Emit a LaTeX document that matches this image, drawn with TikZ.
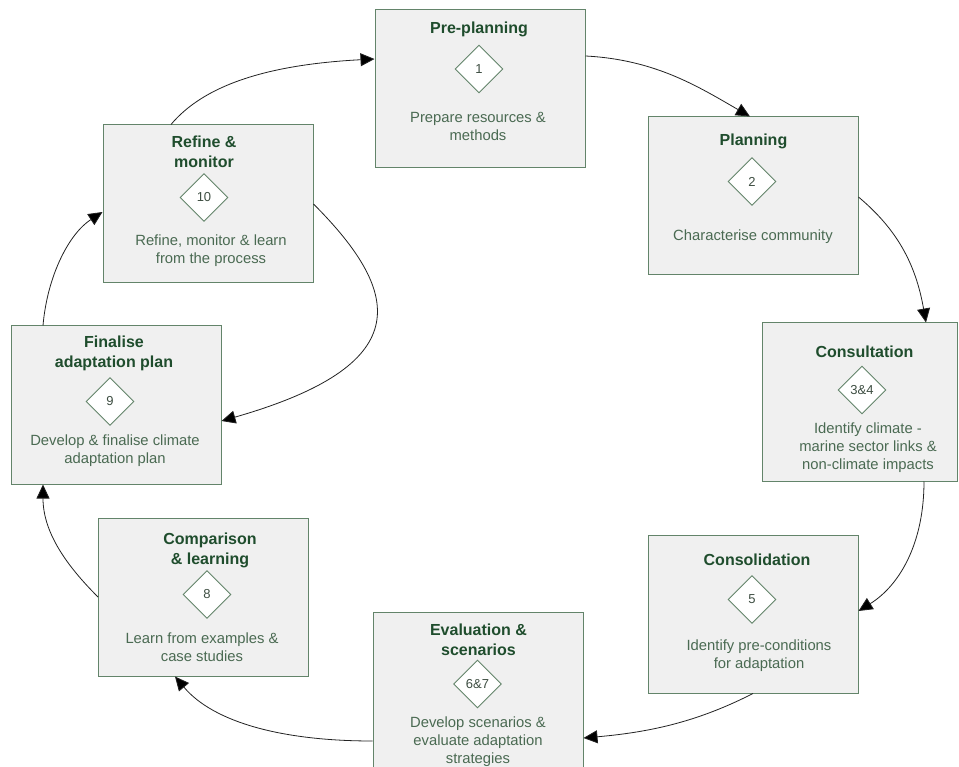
\documentclass[tikz,border=0pt]{standalone}
\usepackage{fontspec}
\setmainfont{Liberation Sans}
\usetikzlibrary{arrows.meta,shapes.geometric}
\definecolor{boxfill}{HTML}{F0F0F0}
\definecolor{boxline}{HTML}{63846A}
\definecolor{titlegreen}{HTML}{1F4D2D}
\definecolor{descgreen}{HTML}{4A6A52}
\definecolor{numgray}{HTML}{3E4E42}
\definecolor{linkgray}{HTML}{222222}

\begin{document}
\begin{tikzpicture}[x=1pt,y=-1pt,
  stagebox/.style={draw=boxline, fill=boxfill, line width=1pt,
    minimum width=210pt, minimum height=158pt, inner sep=0pt},
  stagetitle/.style={text=titlegreen, font=\fontsize{16}{20}\selectfont\bfseries,
    align=center, inner sep=0pt},
  stagetext/.style={text=descgreen, font=\fontsize{14.8}{18}\selectfont,
    align=center, inner sep=0pt},
  stepmark/.style={shape=diamond, draw=boxline, fill=white, line width=0.9pt,
    minimum width=48pt, minimum height=48pt, inner sep=0pt,
    text=numgray, font=\fontsize{13}{15}\selectfont},
  link/.style={draw=linkgray, line width=0.8pt,
    -{Triangle[length=14pt,width=13pt,fill=black]}}
]
\useasboundingbox (0,0) rectangle (959,767);
\clip (0,0) rectangle (959,767);

% 1 Pre-planning
\node[stagebox] (b1) at (480,89) {};
\node[stagetitle] (t1) at (479,29) {Pre-planning};
\node[stepmark] (d1) at (479,69) {1};
\node[stagetext] (x1) at (478,126) {Prepare resources \&\\methods};

% 2 Planning
\node[stagebox] (b2) at (753,196) {};
\node[stagetitle] (t2) at (753.5,141) {Planning};
\node[stepmark] (d2) at (752,181.5) {2};
\node[stagetext] (x2) at (753,237) {Characterise community};

% 3&4 Consultation
\node[stagebox, minimum width=195pt] (b3) at (859.5,402) {};
\node[stagetitle] (t3) at (864.5,352) {Consultation};
\node[stepmark] (d3) at (862,390) {3\&4};
\node[stagetext] (x3) at (868,448) {Identify climate -\\marine sector links \&\\non-climate impacts};

% 5 Consolidation
\node[stagebox] (b5) at (753,614) {};
\node[stagetitle] (t5) at (757,560) {Consolidation};
\node[stepmark] (d5) at (752,599.5) {5};
\node[stagetext] (x5) at (759,655.5) {Identify pre-conditions\\for adaptation};

% 6&7 Evaluation & scenarios
\node[stagebox] (b67) at (478,691) {};
\node[stagetitle] (t67) at (478.5,640) {Evaluation \&\\scenarios};
\node[stepmark] (d67) at (477.5,684) {6\&7};
\node[stagetext] (x67) at (478,741.5) {Develop scenarios \&\\evaluate adaptation\\strategies};

% 8 Comparison & learning
\node[stagebox] (b8) at (203.5,597) {};
\node[stagetitle] (t8) at (210,550.5) {Comparison\\\& learning};
\node[stepmark] (d8) at (207,594.5) {8};
\node[stagetext] (x8) at (202,647.5) {Learn from examples \&\\case studies};

% 9 Finalise adaptation plan
\node[stagebox] (b9) at (116,405) {};
\node[stagetitle] (t9) at (114,353) {Finalise\\adaptation plan};
\node[stepmark] (d9) at (110,401.5) {9};
\node[stagetext] (x9) at (115,451) {Develop \& finalise climate\\adaptation plan};

% 10 Refine & monitor
\node[stagebox] (b10) at (208,204) {};
\node[stagetitle] (t10) at (204,152) {Refine \&\\monitor};
\node[stepmark] (d10) at (204,197.5) {10};
\node[stagetext] (x10) at (211,250.5) {Refine, monitor \& learn\\from the process};

% cycle connectors
\draw[link] ([yshift=33pt]b1.east) .. controls +(-3:70pt) and +(150:60pt) .. ([xshift=-3pt]b2.north);
\draw[link] ([yshift=-1pt]b2.east) .. controls +(-40:50pt) and +(100:60pt) .. ([xshift=66.5pt]b3.north);
\draw[link] ([xshift=64.5pt]b3.south) .. controls +(-90:60pt) and +(32:50pt) .. ([yshift=3pt]b5.east);
\draw[link] (b5.south) .. controls +(-153:60pt) and +(5:70pt) .. ([yshift=-47pt]b67.east);
\draw[link] ([yshift=-50pt]b67.west) .. controls +(180:90pt) and +(-50:60pt) .. ([xshift=-28.5pt]b8.south);
\draw[link] (b8.west) .. controls +(135:40pt) and +(-90:50pt) .. ([xshift=-73pt]b9.south);
\draw[link] ([xshift=-73pt]b9.north) .. controls +(85:50pt) and +(213:40pt) .. ([yshift=-8pt]b10.west);
\draw[link] ([xshift=-37pt]b10.north) .. controls +(50:50pt) and +(183:110pt) .. ([yshift=30pt]b1.west);
\draw[link] (b10.east) .. controls +(-45:130pt) and +(16:200pt) .. ([yshift=-16pt]b9.east);
\end{tikzpicture}
\end{document}
